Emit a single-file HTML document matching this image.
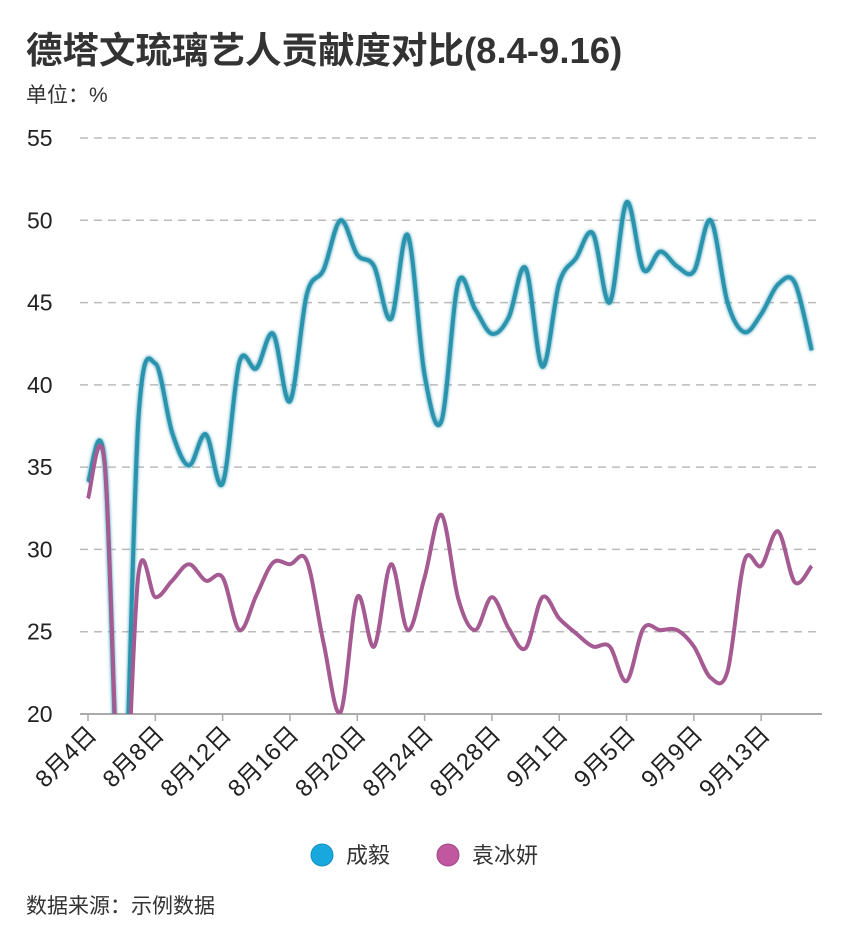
<!DOCTYPE html>
<html><head><meta charset="utf-8"><style>
html,body{margin:0;padding:0;background:#fff;width:858px;height:950px;overflow:hidden;}
body{font-family:"Liberation Sans","Noto Sans CJK SC",sans-serif;}
svg{display:block;}
</style></head><body>
<svg id="chart" width="858" height="950" xmlns="http://www.w3.org/2000/svg" style="font-family:'Liberation Sans','Noto Sans CJK SC',sans-serif">
<defs>
<clipPath id="plotclip"><rect x="70" y="120" width="760" height="594"/></clipPath>
<filter id="glowC" x="-10%" y="-10%" width="120%" height="120%"><feGaussianBlur stdDeviation="1.6" result="b"/><feMerge><feMergeNode in="b"/><feMergeNode in="SourceGraphic"/></feMerge></filter>
</defs>
<text x="26" y="63" font-size="36.5" font-weight="bold" fill="#333">德塔文琉璃艺人贡献度对比(8.4-9.16)</text>
<text x="26" y="102" font-size="21" fill="#333">单位：%</text>
<g id="grid"></g>
<g id="yticks"></g>
<g id="xaxis"></g>
<g id="series" clip-path="url(#plotclip)"></g>
<g>
<g>
<circle cx="322" cy="855" r="11" fill="#18a8dd" stroke="#138fc0" stroke-width="1"/>
<text x="346" y="863" font-size="22" fill="#333">成毅</text></g>
<g>
<circle cx="448" cy="855" r="11" fill="#c0579f" stroke="#a24a88" stroke-width="1"/>
<text x="472" y="863" font-size="22" fill="#333">袁冰妍</text></g>
</g>
<text x="26" y="913" font-size="21" fill="#333">数据来源：示例数据</text>
</svg>
<script>
const categories = ["8月4日","8月5日","8月6日","8月7日","8月8日","8月9日","8月10日","8月11日","8月12日","8月13日","8月14日","8月15日","8月16日","8月17日","8月18日","8月19日","8月20日","8月21日","8月22日","8月23日","8月24日","8月25日","8月26日","8月27日","8月28日","8月29日","8月30日","8月31日","9月1日","9月2日","9月3日","9月4日","9月5日","9月6日","9月7日","9月8日","9月9日","9月10日","9月11日","9月12日","9月13日","9月14日","9月15日","9月16日"];
const chengyi = [34.1,35.2,12,38,41.3,37.1,35.1,37,34,41.4,41,43.1,39,45.5,47,50,47.9,47.2,44,49.1,40.6,37.8,46.2,44.6,43.1,44.1,47.1,41.1,46.2,47.7,49.2,45,51.1,47,48.1,47.2,46.9,50,45,43.2,44.3,46.1,46.2,42.1];
const yuanbingyan = [33.1,35.1,12,28.5,27.1,28.1,29.1,28.1,28.3,25.1,27.2,29.2,29.1,29.3,24.3,20.1,27.1,24.1,29.1,25.1,28.3,32.1,27,25.1,27.1,25.2,24,27.1,25.8,24.9,24.1,24.1,22,25.2,25.1,25.1,24.1,22.2,22.6,29.3,29,31.1,28,29];
const yTicks = [20,25,30,35,40,45,50,55];
const x0=88, dx=16.83, yBase=714, yTop=138, yMin=20, yMax=55;
function xScale(i){return x0+i*dx;}
function yScale(v){return yBase-(v-yMin)/(yMax-yMin)*(yBase-yTop);}
const NS="http://www.w3.org/2000/svg";
function mk(tag,attrs,parent){const e=document.createElementNS(NS,tag);for(const k in attrs)e.setAttribute(k,attrs[k]);parent.appendChild(e);return e;}
const grid=document.getElementById('grid'), yt=document.getElementById('yticks'), xa=document.getElementById('xaxis'), ser=document.getElementById('series');
yTicks.forEach(v=>{
  const y=yScale(v);
  if(v!==yMin){
    const l=mk('line',{x1:80,x2:820,y1:y,y2:y,stroke:'#bbb','stroke-width':1.5,'stroke-dasharray':'8,6'},grid);
    
    
  }
  const t=mk('text',{x:27,y:y+8,'font-size':23,fill:'#222'},yt);
  t.textContent=v;
  
  
});
const ax=mk('line',{x1:80,x2:822,y1:yBase,y2:yBase,stroke:'#aaa','stroke-width':2},xa);


categories.forEach((c,i)=>{
  if(i%4!==0)return;
  const x=xScale(i);
  const tk=mk('line',{x1:x,x2:x,y1:yBase,y2:yBase+7,stroke:'#aaa','stroke-width':1.5},xa);
  
  
  const t=mk('text',{x:x+10,y:yBase+22,'font-size':24,fill:'#222','text-anchor':'end',transform:`rotate(-45 ${x+10} ${yBase+22})`},xa);
  t.textContent=c;
  
  
});
function smoothPath(vals){
  const p=vals.map((v,i)=>[xScale(i),yScale(v)]);
  let d=`M${p[0][0]},${p[0][1]}`;
  for(let i=0;i<p.length-1;i++){
    const a=p[i-1]||p[i], b=p[i], c=p[i+1], e=p[i+2]||c;
    const k=1/6;
    d+=` C${b[0]+(c[0]-a[0])*k},${b[1]+(c[1]-a[1])*k} ${c[0]-(e[0]-b[0])*k},${c[1]-(e[1]-b[1])*k} ${c[0]},${c[1]}`;
  }
  return d;
}
const pc=mk('path',{d:smoothPath(chengyi),fill:'none',stroke:'#2a93ad','stroke-width':4,filter:'url(#glowC)','stroke-linejoin':'round'},ser);


const py=mk('path',{d:smoothPath(yuanbingyan),fill:'none',stroke:'#a55a92','stroke-width':4,'stroke-linejoin':'round'},ser);


</script>
</body></html>
